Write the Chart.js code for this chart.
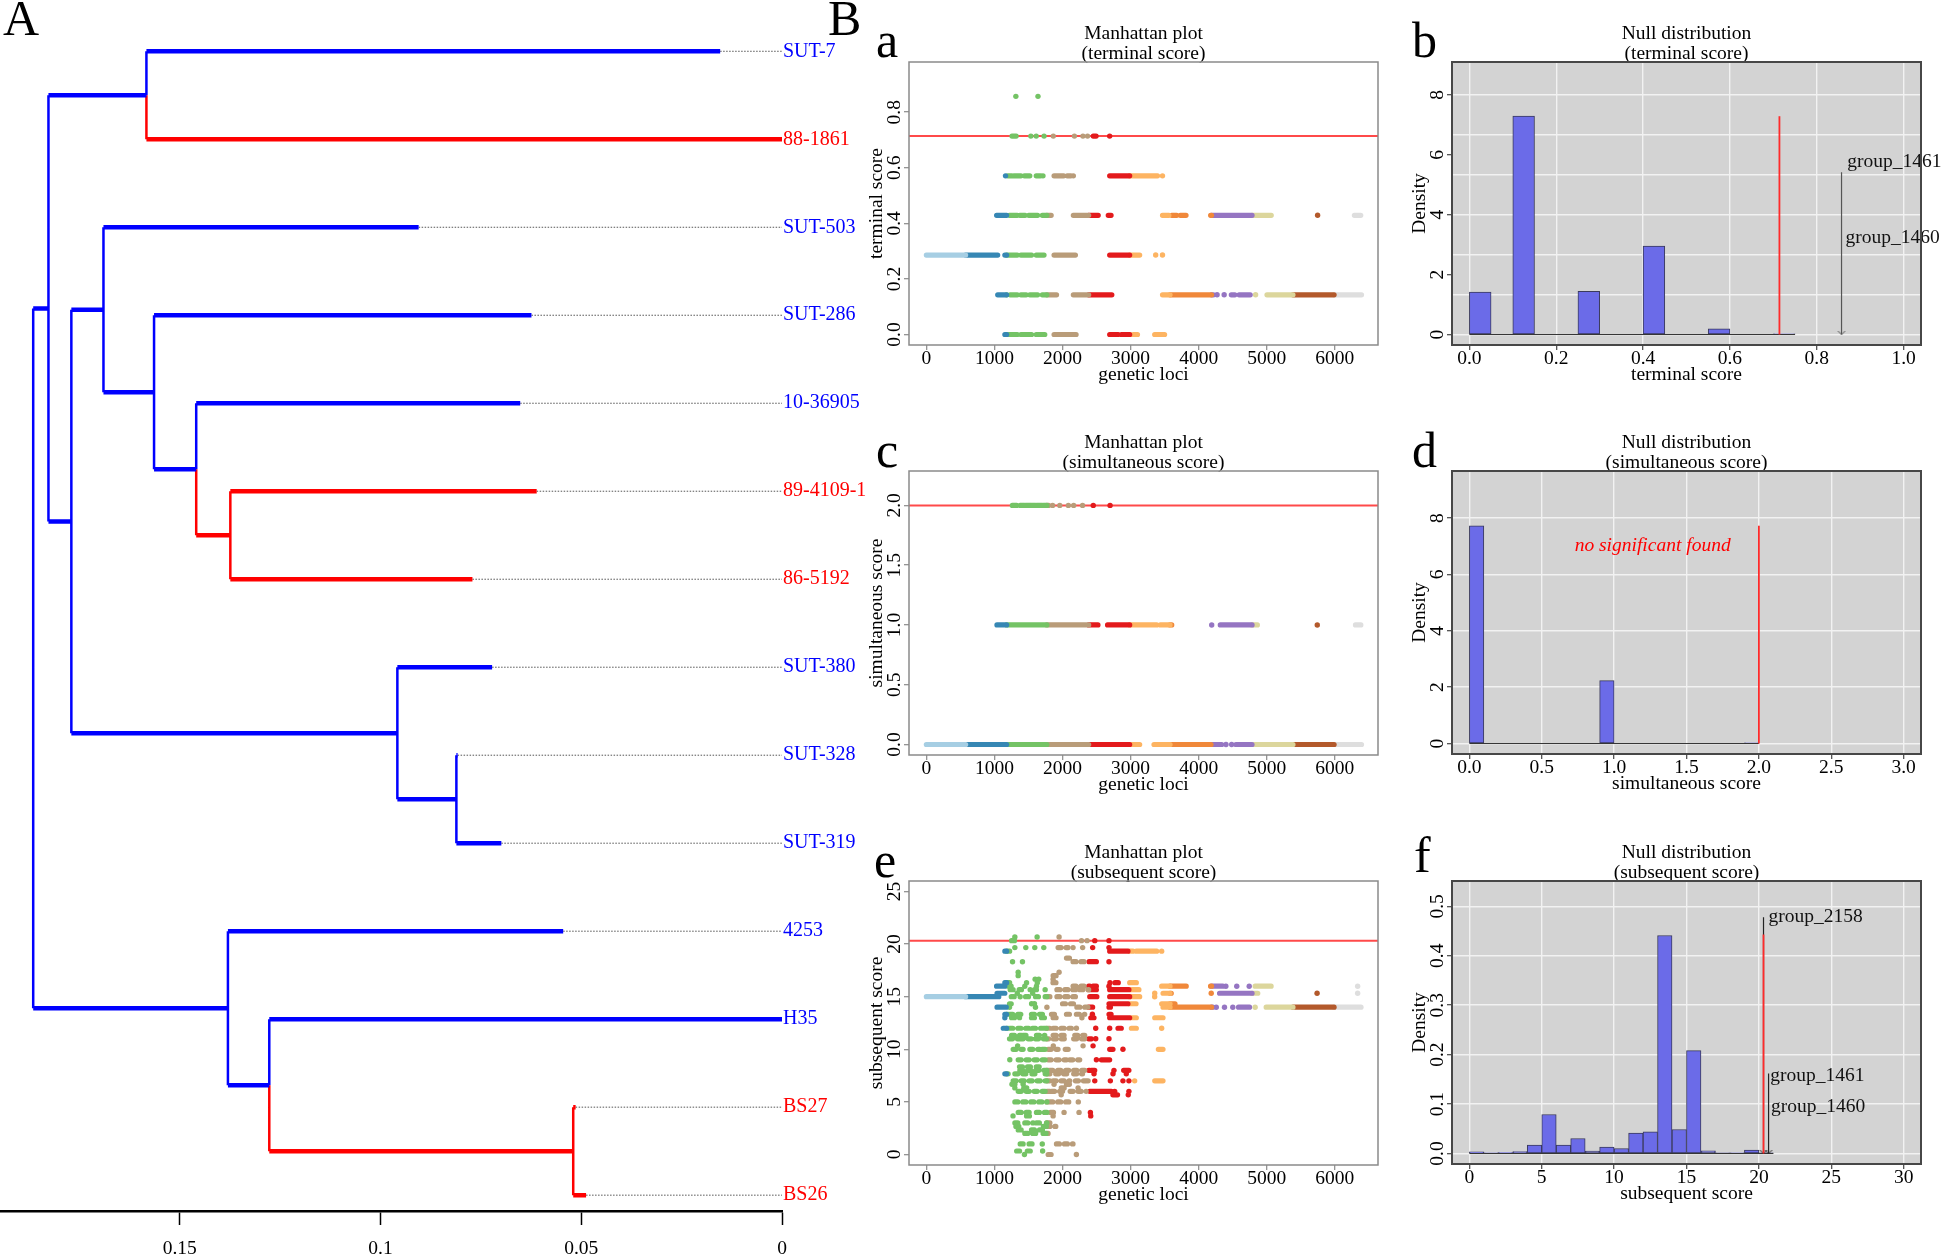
<!DOCTYPE html>
<html>
<head>
<meta charset="utf-8">
<title>Tree and score plots</title>
<script src="https://cdn.jsdelivr.net/npm/chart.js@4.4.1/dist/chart.umd.min.js"></script>
<style>
  html, body { margin: 0; background: #fff; }
  body { position: relative; width: 1944px; height: 1259px; overflow: hidden; font-family: "Liberation Serif", serif; }
  canvas { position: absolute; }
  .tag { position: absolute; font-size: 50px; line-height: 1; color: #000; }
</style>
</head>
<body>
<div class="tag" style="left:3px;top:-7px">A</div>
<div class="tag" style="left:828px;top:-7px">B</div>
<div class="tag" style="left:876px;top:15px">a</div>
<div class="tag" style="left:1412px;top:15px">b</div>
<div class="tag" style="left:876px;top:425px">c</div>
<div class="tag" style="left:1412px;top:425px">d</div>
<div class="tag" style="left:874px;top:835px">e</div>
<div class="tag" style="left:1414px;top:830px">f</div>
<script>
// ---- tree (panel A) ----
const tipLabels = ['SUT-7', '88-1861', 'SUT-503', 'SUT-286', '10-36905', '89-4109-1', '86-5192',
  'SUT-380', 'SUT-328', 'SUT-319', '4253', 'H35', 'BS27', 'BS26'];
const tipDepth = [0.0154, 0, 0.0905, 0.0624, 0.0652, 0.0611, 0.0771, 0.0722, 0.0808, 0.0699, 0.0545, 0, 0.0514, 0.0488];
const tipGroup = ['b', 'r', 'b', 'b', 'b', 'r', 'r', 'b', 'b', 'b', 'b', 'b', 'r', 'r'];
// internal nodes 14..26, children refer to tip or node index
const nodeKids = [[0, 1], [5, 6], [4, 15], [3, 16], [2, 17], [8, 9], [7, 19], [18, 20], [14, 21], [12, 13], [11, 23], [10, 24], [22, 25]];
const nodeDepth = [0.1583, 0.1374, 0.1459, 0.1564, 0.169, 0.0811, 0.0958, 0.177, 0.1827, 0.052, 0.1277, 0.138, 0.1865];
const nodeGroup = ['b', 'r', 'b', 'b', 'b', 'b', 'b', 'b', 'b', 'r', 'b', 'b', 'b'];
const treeTicks = [0, 0.05, 0.1, 0.15];

// ---- Manhattan plots ----
const lociEdges = [0, 577, 1180, 1771, 2385, 2987, 3580, 4190, 4785, 5386, 5990, 7000];
const lociColors = ['#a6cee3', '#3687b4', '#74c365', '#b99c79', '#e31a1c', '#fdb462', '#f0883a', '#9575c2', '#dcd69c', '#b3592b', '#dedede'];
const lociRange = [-255, 6635];
const lociTicks = [0, 1000, 2000, 3000, 4000, 5000, 6000];

const termLevels = [0.857, 0.714, 0.571, 0.429, 0.286, 0.143, 0];
const termRuns = [
  [[1315, 1315], [1640, 1640]],
  [[1258, 1320], [1535, 1535], [1614, 1614], [1729, 1729], [1865, 1865], [2175, 2175], [2300, 2300], [2368, 2368], [2452, 2494], [2693, 2693]],
  [[1163, 1163], [1195, 1258], [1284, 1389], [1441, 1520], [1614, 1677], [1713, 1713], [1876, 2017], [2070, 2122], [2159, 2159], [2693, 2987], [2987, 3396], [3469, 3469]],
  [[1032, 1179], [1221, 1336], [1373, 1451], [1504, 1635], [1703, 1834], [2159, 2525], [2672, 2714], [3469, 3563], [3605, 3678], [3731, 3815], [4176, 5067], [5748, 5748], [6288, 6382]],
  [[0, 1048], [1153, 1336], [1389, 1546], [1614, 1729], [1876, 2190], [2693, 3134], [3369, 3369], [3469, 3469]],
  [[1048, 1184], [1231, 1336], [1389, 1467], [1520, 1635], [1703, 1913], [2159, 2725], [3469, 4218], [4271, 4271], [4375, 4375], [4480, 4532], [4595, 4758], [4837, 4837], [5004, 6393]],
  [[1153, 1336], [1389, 1546], [1614, 1740], [1876, 2200], [2693, 2819], [2866, 2997], [3039, 3102], [3354, 3500]]
];
const termCut = 0.714;

const simLevels = [2, 1, 0];
const simRuns = [
  [[1263, 1326], [1378, 1440], [1460, 1520], [1535, 1600], [1620, 1700], [1720, 1797], [1855, 1855], [1960, 1960], [2086, 2086], [2164, 2164], [2295, 2295], [2452, 2452], [2699, 2699]],
  [[1037, 2521], [2662, 3385], [3438, 3605], [4192, 4192], [4318, 4863], [5743, 5743], [6304, 6383]],
  [[0, 3134], [3344, 4182], [4182, 4339], [4402, 4402], [4485, 4485], [4548, 4784], [4810, 6393]]
];
const simCut = 2;

const subLevels = [20.67, 20.33, 19.67, 19.33, 18.67, 18.33, 17.33, 17, 16.67, 16.33, 16, 15.67, 15.33, 15, 14.33, 14,
  13.33, 13, 12, 11.33, 11, 10.33, 10, 9, 8.33, 8, 7.67, 7, 6.67, 6.33, 6, 5.67, 5, 4, 3.67, 3, 2.67, 2.33, 2, 1, 0.33, 0];
const subRuns = [
  [[1300, 1300], [1627, 1627], [1950, 1950]],
  [[1251, 1300], [2279, 2279], [2361, 2361], [2474, 2474], [2683, 2683]],
  [[1300, 1300], [1461, 1461], [1593, 1593], [1725, 1725], [1935, 2082], [2155, 2155], [2296, 2296], [2443, 2443], [2683, 2683]],
  [[1153, 1251], [2693, 2962], [2987, 3036], [3085, 3384], [3457, 3457]],
  [[2058, 2155]],
  [[1266, 1266], [1412, 1412], [2155, 2376], [2390, 2498], [2683, 2683]],
  [[1349, 1349], [1950, 1950]],
  [[1349, 1349], [1862, 1960]],
  [[1598, 1598], [1651, 1651], [1862, 1862]],
  [[1153, 1247], [1472, 1472], [1630, 1630], [1860, 1970], [2698, 2698], [2771, 2820], [2987, 3085]],
  [[1031, 1153], [1202, 1300], [1446, 1446], [1618, 1618], [2155, 2400], [2449, 2498], [2683, 2683], [3457, 3818], [4175, 4356], [4400, 4400], [4560, 4560], [4743, 4743], [4830, 5065], [6336, 6336]],
  [[1231, 1300], [1363, 1398], [1525, 1525], [1588, 1618], [1745, 1745], [1918, 2190], [2254, 2351], [2376, 2498], [2693, 2976], [3013, 3123]],
  [[1038, 1153], [1336, 1336], [1562, 1562], [3355, 3355], [3477, 3598], [4185, 4185], [4307, 4869], [5740, 5740], [6336, 6336]],
  [[0, 1064], [1247, 1300], [1378, 1378], [1457, 1535], [1603, 1666], [1745, 1824], [1918, 2190], [2400, 2505], [2693, 3134], [3354, 3354]],
  [[1221, 1247], [1546, 1546], [1588, 1588], [2000, 2190], [2683, 2962], [2987, 3081], [3457, 3653]],
  [[1038, 1174], [1221, 1221], [1603, 1603], [1771, 1771], [2211, 2443], [2683, 2704], [3477, 4209], [4259, 4259], [4380, 4380], [4502, 4502], [4586, 4748], [4830, 4830], [4992, 6385]],
  [[1153, 1202], [1226, 1422], [1544, 1764], [1838, 1911], [2058, 2131], [2204, 2327], [2439, 2439], [2683, 2714]],
  [[1153, 1153], [1251, 1370], [1544, 1618], [1691, 1764], [1862, 1911], [2285, 2285], [2416, 2463], [2693, 2987], [3012, 3085], [3355, 3477]],
  [[1129, 1202], [1226, 1320], [1345, 1440], [1460, 1540], [1560, 1700], [1720, 1813], [1862, 2131], [2204, 2204], [2488, 2488], [2693, 2693], [2815, 2864], [3012, 3085], [3457, 3457]],
  [[1251, 1398], [1420, 1520], [1617, 1740], [1862, 2033], [2180, 2327]],
  [[1221, 1352], [1378, 1562], [1603, 1797], [1865, 2086], [2164, 2425], [2488, 2488], [2683, 2683]],
  [[1341, 1341], [1865, 1865], [2302, 2302], [2449, 2449]],
  [[1275, 1422], [1520, 1667], [1700, 1760], [1789, 1935], [2040, 2110], [2693, 2742], [2888, 2888], [3408, 3477]],
  [[1226, 1226], [1349, 1764], [1789, 2058], [2107, 2253], [2498, 2498], [2571, 2693]],
  [[1368, 1562], [1614, 1719]],
  [[1373, 1789], [1813, 2400], [2425, 2474], [2756, 2756], [2898, 2976]],
  [[1153, 1202], [1300, 1520], [1551, 1666], [1745, 1876], [1900, 2107], [2164, 2295], [2463, 2463], [2742, 2742], [2937, 2937]],
  [[1275, 1813], [1862, 2107], [2190, 2348], [2376, 2376], [2474, 2474], [2703, 2703], [2888, 2888], [2976, 2976], [3060, 3060], [3355, 3477]],
  [[1258, 1258], [1300, 1300], [1422, 1422], [1876, 1876], [2058, 2131]],
  [[1300, 1300], [1431, 1509], [1981, 2086], [2229, 2229]],
  [[1349, 1813], [1840, 2058], [2112, 2348], [2400, 2718], [2767, 2767], [2976, 2976]],
  [[1981, 1981], [2740, 2809], [2966, 2966]],
  [[1300, 1789], [1813, 2155], [2232, 2232]],
  [[1349, 1569], [1617, 1771], [1824, 1928], [2023, 2023], [2243, 2243], [2410, 2410]],
  [[1273, 1273], [1471, 1540], [1862, 1862], [2415, 2415]],
  [[1300, 1398], [1446, 1569], [1617, 1691], [1765, 1838]],
  [[1315, 1378], [1719, 1902]],
  [[1349, 1422], [1544, 1715]],
  [[1446, 1520], [1562, 1666], [1715, 1789]],
  [[1378, 1457], [1509, 1614], [1703, 1703], [1911, 2155]],
  [[1326, 1431], [1483, 1588], [1708, 1708]],
  [[1441, 1441], [1789, 1862], [2204, 2204]]
];
const subCut = 20.33;

// ---- null distributions ----
const termBins = [1.42, 0, 7.29, 0, 0, 1.44, 0, 0, 2.95, 0, 0, 0.19, 0, 0, 0.02];
const simBins = [7.73, 0, 0, 0, 0, 0, 0, 0, 0, 2.23, 0, 0, 0, 0, 0, 0, 0, 0, 0, 0.02];
const subBins = [0.0034, 0.0014, 0.002, 0.004, 0.0169, 0.079, 0.0169, 0.0304, 0.0047, 0.0128, 0.0101,
  0.0412, 0.0439, 0.441, 0.0486, 0.208, 0.0054, 0.0003, 0.0014, 0.0068, 0.0007];
const termGridY = [0, 1.333, 2.667, 4, 5.333, 6.667, 8];

const SERIF = '"Liberation Serif", serif';
const tickFont = {family: SERIF, size: 19.5, lineHeight: 0.8, weight: 'normal'};
const labFont = {family: SERIF, size: 19.5, lineHeight: 1, weight: 'normal'};
const AXW = 50, AXH = 40, TTL = 40;

Chart.defaults.animation = false;
Chart.defaults.events = [];
Chart.defaults.font.family = SERIF;
Chart.defaults.color = '#000';
Chart.defaults.plugins.legend.display = false;
Chart.defaults.plugins.tooltip.enabled = false;

function textWidth(s, font) {
  const g = document.createElement('canvas').getContext('2d');
  g.font = font.size + 'px ' + font.family;
  return g.measureText(s).width;
}

const frame = {
  id: 'frame',
  beforeDraw(chart, args, o) {
    if (!o.fill) return;
    const a = chart.chartArea, g = chart.ctx;
    g.save();
    g.fillStyle = o.fill;
    g.fillRect(a.left, a.top, a.width, a.height);
    g.restore();
  },
  afterDraw(chart, args, o) {
    const a = chart.chartArea, g = chart.ctx;
    g.save();
    g.strokeStyle = o.color;
    g.lineWidth = o.width;
    g.strokeRect(a.left, a.top, a.width, a.height);
    g.restore();
  }
};

const notes = {
  id: 'notes',
  afterDatasetsDraw(chart, args, o) {
    const g = chart.ctx, x = chart.scales.x, y = chart.scales.y;
    (o.items || []).forEach(n => {
      g.save();
      g.font = (n.italic ? 'italic ' : '') + '19.5px ' + SERIF;
      g.fillStyle = n.color;
      g.textAlign = n.align;
      g.textBaseline = 'middle';
      g.fillText(n.text, x.getPixelForValue(n.x), y.getPixelForValue(n.y));
      g.restore();
    });
  }
};

function makeCanvas(box, padR) {
  const cv = document.createElement('canvas');
  cv.width = AXW + (box[1] - box[0]) + padR;
  cv.height = TTL + (box[3] - box[2]) + AXH;
  cv.style.left = (box[0] - AXW) + 'px';
  cv.style.top = (box[2] - TTL) + 'px';
  document.body.appendChild(cv);
  return cv;
}

function titleOpt(lines) {
  return {display: true, text: lines, font: labFont, padding: {top: 2.5, bottom: -1.5}, fullSize: false, color: '#000'};
}

function axisX(range, ticks, fmt, title, grid, tickColor) {
  return {
    type: 'linear', bounds: 'data', min: range[0], max: range[1], offset: false,
    afterBuildTicks: s => { s.ticks = ticks.map(v => ({value: v})); },
    afterFit: s => { s.height = AXH; },
    ticks: {font: tickFont, padding: 1, maxRotation: 0, autoSkip: false, callback: fmt},
    grid: {drawOnChartArea: grid, offset: false, color: '#f2f2f2', lineWidth: 1.4, tickColor: tickColor, tickLength: 5, tickWidth: 1.2},
    border: {display: false},
    title: {display: true, text: title, font: labFont, padding: 0}
  };
}

function axisY(range, ticks, fmt, title, grid, tickColor) {
  const widest = Math.max(...ticks.map(v => textWidth(fmt(v), tickFont)));
  return {
    type: 'linear', bounds: 'data', min: range[0], max: range[1],
    afterBuildTicks: s => { s.ticks = ticks.map(v => ({value: v})); },
    afterFit: s => { s.width = AXW; },
    ticks: {font: tickFont, padding: 9 - widest / 2, minRotation: 90, maxRotation: 90, crossAlign: 'center', autoSkip: false, callback: fmt},
    grid: {drawOnChartArea: grid, color: '#f2f2f2', lineWidth: 1.4, tickColor: tickColor, tickLength: 5, tickWidth: 1.2},
    border: {display: false},
    title: {display: true, text: title, font: labFont, padding: {top: 8.25, bottom: 0}}
  };
}

// beaded look for the crowded colours of panel e
function lociSets(levels, runs, beadColors) {
  const sets = [];
  lociColors.forEach((col, k) => {
    const lo = lociEdges[k], hi = lociEdges[k + 1];
    const line = [], dots = [];
    levels.forEach((lv, i) => runs[i].forEach(r => {
      if (r[0] === r[1]) {
        if (r[0] >= lo && r[0] < hi) dots.push({x: r[0], y: lv});
        return;
      }
      const s = Math.max(r[0], lo), e = Math.min(r[1], hi);
      if (e > s) line.push({x: s, y: lv}, {x: e, y: lv}, {x: null, y: null});
    }));
    const bead = beadColors && beadColors.includes(k);
    sets.push({data: line, borderColor: col, borderWidth: 5.2, borderCapStyle: 'round',
      borderDash: bead ? [3, 5] : [], pointRadius: 0, spanGaps: false});
    sets.push({data: dots, showLine: false, pointRadius: 2.7, pointBackgroundColor: col, pointBorderWidth: 0});
  });
  return sets;
}

function manhattan(box, title, ytitle, levels, runs, cut, range, ticks, fmt, beadColors) {
  const cv = makeCanvas(box, 6);
  new Chart(cv, {
    type: 'line',
    data: {datasets: [
      ...lociSets(levels, runs, beadColors),
      {data: [{x: lociRange[0], y: cut}, {x: lociRange[1], y: cut}], borderColor: '#ff4a4a', borderWidth: 2, pointRadius: 0}
    ]},
    options: {
      responsive: false,
      layout: {padding: {right: 6}},
      plugins: {title: titleOpt(title), frame: {color: '#8a8a8a', width: 1.5}},
      scales: {
        x: axisX(lociRange, lociTicks, v => String(v), 'genetic loci', false, '#8a8a8a'),
        y: axisY(range, ticks, fmt, ytitle, false, '#8a8a8a')
      }
    },
    plugins: [frame]
  });
}

function vHead(color) {
  const c = document.createElement('canvas');
  c.width = 9; c.height = 8;
  const g = c.getContext('2d');
  g.strokeStyle = color; g.lineWidth = 1;
  g.beginPath(); g.moveTo(0.5, 0); g.lineTo(4.5, 4); g.lineTo(8.5, 0); g.stroke();
  return c;
}

function nullHist(box, o) {
  const cv = makeCanvas(box, 24);
  const end = o.bins.length * o.width;
  const sets = [];
  sets.push({data: [{x: o.cut, y: 0}, {x: o.cut, y: o.cutTop}], borderColor: '#ff2a2a', borderWidth: 1.8, pointRadius: 0});
  (o.arrows || []).forEach(a => {
    sets.push({data: [{x: a.x, y: a.top}, {x: a.x, y: 0}], borderColor: a.color, borderWidth: 1.2, pointRadius: 0});
    sets.push({data: [{x: a.x, y: 0}], showLine: false, pointStyle: vHead(a.color)});
  });
  sets.push({data: [{x: 0, y: 0}, {x: end, y: 0}], borderColor: '#333', borderWidth: 1, pointRadius: 0});
  sets.push({type: 'bar', data: o.bins.map((h, i) => ({x: (i + 0.5) * o.width, y: h})),
    backgroundColor: '#6b6be8', borderColor: '#3a3a5c', borderWidth: 1, borderSkipped: false,
    barPercentage: 1, categoryPercentage: 1});
  sets.forEach(s => { if (!s.type) s.type = 'line'; });

  const scales = {
    x: axisX(o.xrange, o.xticks, o.xfmt, o.xtitle, true, '#444'),
    y: axisY(o.yrange, o.yticks, o.yfmt, 'Density', !o.gridY, '#444')
  };
  if (o.gridY) {
    scales.yg = {
      type: 'linear', position: 'left', bounds: 'data', min: o.yrange[0], max: o.yrange[1],
      afterBuildTicks: s => { s.ticks = o.gridY.map(v => ({value: v})); },
      afterFit: s => { s.width = 0; },
      ticks: {display: false},
      grid: {drawTicks: false, color: '#f2f2f2', lineWidth: 1.4},
      border: {display: false}
    };
  }
  new Chart(cv, {
    type: 'bar',
    data: {datasets: sets},
    options: {
      responsive: false,
      layout: {padding: {right: 24}},
      plugins: {title: titleOpt(o.title), frame: {fill: '#d3d3d3', color: '#474747', width: 2}, notes: {items: o.notes || []}},
      scales: scales
    },
    plugins: [frame, notes]
  });
}

// ---- draw tree ----
(function drawTree() {
  const n = tipLabels.length;
  const depth = tipDepth.concat(nodeDepth);
  const group = tipGroup.concat(nodeGroup);
  const ty = tipLabels.map((_, i) => i);
  nodeKids.forEach((k, j) => { ty[n + j] = (ty[k[0]] + ty[k[1]]) / 2; });
  const thick = {b: [], r: []}, thin = {b: [], r: []};
  nodeKids.forEach((k, j) => {
    const p = n + j;
    k.forEach(c => {
      thick[group[c]].push({x: depth[p], y: ty[c]}, {x: depth[c], y: ty[c]}, {x: null, y: null});
      thin[group[c]].push({x: depth[p], y: ty[p]}, {x: depth[p], y: ty[c]}, {x: null, y: null});
    });
  });
  const leaders = [];
  tipDepth.forEach((d, i) => leaders.push({x: d, y: i}, {x: 0, y: i}, {x: null, y: null}));
  const hex = {b: '#0000ff', r: '#ff0000'};

  const cv = document.createElement('canvas');
  cv.width = 882; cv.height = 1259;
  cv.style.left = '0px'; cv.style.top = '0px';
  document.body.appendChild(cv);
  const line = (data, color, w, dash) => ({data, borderColor: color, borderWidth: w, borderDash: dash || [], pointRadius: 0, spanGaps: false});
  new Chart(cv, {
    type: 'line',
    data: {datasets: [
      line(thick.r, hex.r, 4.5), line(thick.b, hex.b, 4.5),
      line(thin.r, hex.r, 2.5), line(thin.b, hex.b, 2.5),
      line(leaders, '#555', 1, [1.5, 1.5])
    ]},
    options: {
      responsive: false,
      layout: {padding: 0},
      scales: {
        x: {
          type: 'linear', reverse: true, bounds: 'data', min: 0, max: 782 / 4015,
          afterBuildTicks: s => { s.ticks = treeTicks.map(v => ({value: v})); },
          afterFit: s => { s.height = 48; },
          ticks: {font: {family: SERIF, size: 19.5, lineHeight: 1.2}, padding: 12, maxRotation: 0, autoSkip: false, callback: v => String(v)},
          grid: {drawOnChartArea: false, tickLength: 14, tickColor: '#000', tickWidth: 1.5},
          border: {color: '#000', width: 2.5}
        },
        y: {
          type: 'linear', position: 'right', reverse: true, bounds: 'data', min: -0.435, max: 13.18,
          afterBuildTicks: s => { s.ticks = tipLabels.map((_, i) => ({value: i})); },
          afterFit: s => { s.width = 100; },
          ticks: {font: {family: SERIF, size: 20}, padding: 1, autoSkip: false,
            color: c => hex[tipGroup[c.index]], callback: (v, i) => tipLabels[i]},
          grid: {display: false, drawTicks: false},
          border: {display: false}
        }
      }
    }
  });
})();

// ---- Manhattan panels a, c, e ----
manhattan([909, 1378, 62, 345], ['Manhattan plot', '(terminal score)'], 'terminal score',
  termLevels, termRuns, termCut, [-0.0377, 0.9806], [0, 0.2, 0.4, 0.6, 0.8], v => v.toFixed(1));
manhattan([909, 1378, 471, 755], ['Manhattan plot', '(simultaneous score)'], 'simultaneous score',
  simLevels, simRuns, simCut, [-0.088, 2.288], [0, 0.5, 1, 1.5, 2], v => v.toFixed(1));
manhattan([909, 1378, 881, 1165], ['Manhattan plot', '(subsequent score)'], 'subsequent score',
  subLevels, subRuns, subCut, [-1, 26], [0, 5, 10, 15, 20, 25], v => String(v), [2, 3]);

// ---- null distribution panels b, d, f ----
nullHist([1452, 1921, 62, 345], {
  title: ['Null distribution', '(terminal score)'], xtitle: 'terminal score',
  bins: termBins, width: 0.05, cut: 0.714, cutTop: 7.29,
  xrange: [-0.04, 1.04], xticks: [0, 0.2, 0.4, 0.6, 0.8, 1], xfmt: v => v.toFixed(1),
  yrange: [-0.35, 9.1], yticks: [0, 2, 4, 6, 8], yfmt: v => String(v), gridY: termGridY,
  arrows: [{x: 0.857, top: 5.42, color: '#555'}],
  notes: [
    {text: 'group_1461', x: 0.87, y: 5.75, color: '#111', align: 'left'},
    {text: 'group_1460', x: 0.866, y: 3.23, color: '#111', align: 'left'}
  ]
});
nullHist([1452, 1921, 471, 754], {
  title: ['Null distribution', '(simultaneous score)'], xtitle: 'simultaneous score',
  bins: simBins, width: 0.1, cut: 2, cutTop: 7.73,
  xrange: [-0.12, 3.12], xticks: [0, 0.5, 1, 1.5, 2, 2.5, 3], xfmt: v => v.toFixed(1),
  yrange: [-0.372, 9.672], yticks: [0, 2, 4, 6, 8], yfmt: v => String(v),
  notes: [{text: 'no significant found', x: 1.266, y: 7.03, color: '#ff0000', align: 'center', italic: true}]
});
nullHist([1452, 1921, 881, 1164], {
  title: ['Null distribution', '(subsequent score)'], xtitle: 'subsequent score',
  bins: subBins, width: 1, cut: 20.32, cutTop: 0.443,
  xrange: [-1.2, 31.2], xticks: [0, 5, 10, 15, 20, 25, 30], xfmt: v => String(v),
  yrange: [-0.0212, 0.5512], yticks: [0, 0.1, 0.2, 0.3, 0.4, 0.5], yfmt: v => v.toFixed(1),
  arrows: [{x: 20.32, top: 0.478, color: '#222'}, {x: 20.67, top: 0.162, color: '#222'}],
  notes: [
    {text: 'group_2158', x: 20.67, y: 0.478, color: '#111', align: 'left'},
    {text: 'group_1461', x: 20.79, y: 0.157, color: '#111', align: 'left'},
    {text: 'group_1460', x: 20.84, y: 0.0946, color: '#111', align: 'left'}
  ]
});
</script>
</body>
</html>
